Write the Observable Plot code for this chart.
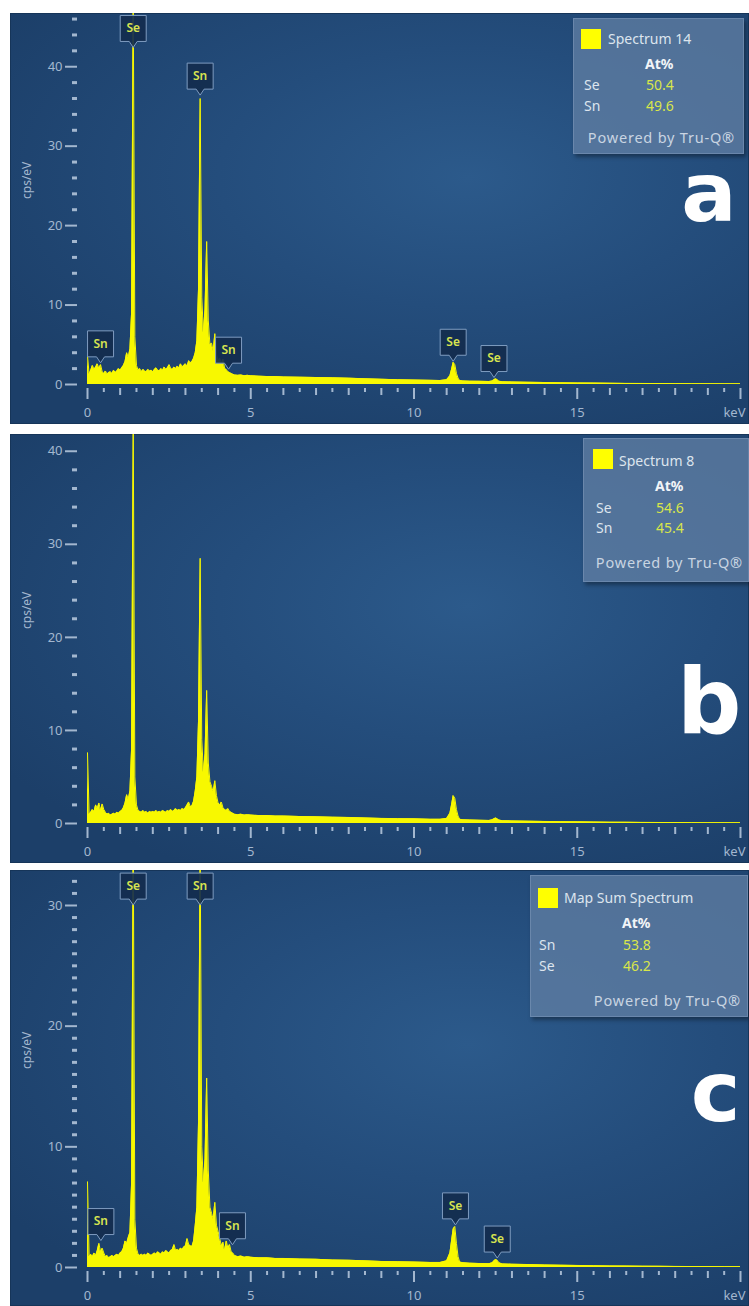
<!DOCTYPE html>
<html><head><meta charset="utf-8">
<script src="https://cdn.jsdelivr.net/npm/d3@7"></script>
<script src="https://cdn.jsdelivr.net/npm/@observablehq/plot@0.6"></script>
<style>
body{margin:0;background:#fff;}
#root{position:relative;width:749px;height:1306px;overflow:hidden;background:#fff;}
.panel{position:absolute;left:10px;}
.panel svg{display:block;}
.legend{position:absolute;background:rgba(98,128,164,0.74);border:1px solid rgba(125,152,186,0.55);box-shadow:2px 3px 4px rgba(0,0,0,0.35);font-family:"Noto Sans",sans-serif;font-size:14px;color:#dde5ee;}
.legend span{position:absolute;white-space:nowrap;line-height:12px;}
.legend .sw{width:20px;height:20px;background:#ffff00;}
.legend .hd{font-weight:700;color:#f2f5f8;}
.legend .val{color:#d9e64a;}
.legend .pw{color:#c9d5e2;font-size:14.5px;letter-spacing:0.8px;}
</style></head>
<body><div id="root"></div>
<script>
// ---- data ----
const keV = [
  0,0.05,0.1,0.15,0.2,0.25,0.3,0.35,0.4,0.45,
  0.5,0.55,0.6,0.65,0.7,0.75,0.8,0.85,0.9,0.95,
  1,1.05,1.1,1.15,1.2,1.25,1.3,1.35,1.4,1.45,
  1.5,1.55,1.6,1.65,1.7,1.75,1.8,1.85,1.9,1.95,
  2,2.05,2.1,2.15,2.2,2.25,2.3,2.35,2.4,2.45,
  2.5,2.55,2.6,2.65,2.7,2.75,2.8,2.85,2.9,2.95,
  3,3.05,3.1,3.15,3.2,3.25,3.3,3.35,3.4,3.45,
  3.5,3.55,3.6,3.65,3.7,3.75,3.8,3.85,3.9,3.95,
  4,4.05,4.1,4.15,4.2,4.25,4.3,4.35,4.4,4.45,
  4.5,4.6,4.7,4.8,4.9,5,5.25,5.5,5.75,6,
  6.5,7,7.5,8,8.5,9,9.5,10,10.5,10.8,
  11,11.1,11.15,11.2,11.25,11.3,11.35,11.4,11.5,11.7,
  12,12.3,12.4,12.45,12.5,12.55,12.6,12.7,13,13.5,
  14,14.5,15,15.5,16,16.5,17,17.5,18,18.5,
  19,19.5,20
];
const cpsA = [
  3.6,1.3,1.8,2.4,1.9,2.2,2.6,2.0,2.5,1.6,
  1.4,1.7,1.3,1.5,1.6,1.4,1.8,1.5,1.7,2.0,
  1.8,2.1,2.4,2.9,4.0,3.4,4.5,9.0,49,6.0,
  2.4,1.8,2.0,1.6,1.9,1.7,1.6,1.9,1.7,1.8,
  1.6,1.9,2.1,1.8,1.7,2.0,1.8,2.2,1.9,2.1,
  2.5,2.0,1.9,2.2,2.0,2.3,2.1,2.6,2.2,2.4,
  2.6,2.3,3.0,2.7,2.9,3.3,4.0,5.5,12,36,
  11,6.5,9.5,18,8.0,5.0,5.2,4.2,6.4,3.8,
  3.0,3.3,2.6,3.2,2.0,1.9,1.6,1.5,1.4,1.3,
  1.2,1.15,1.2,1.1,1.15,1.1,1.05,1.0,1.0,0.95,
  0.92,0.88,0.84,0.8,0.72,0.66,0.6,0.56,0.52,0.5,
  0.6,1.1,1.9,2.8,2.5,1.4,0.8,0.5,0.45,0.42,
  0.4,0.38,0.45,0.6,0.72,0.6,0.42,0.35,0.32,0.28,
  0.25,0.22,0.2,0.18,0.16,0.14,0.13,0.12,0.11,0.1,
  0.09,0.08,0.08
];
const cpsB = [
  7.6,1.0,1.2,1.5,1.3,2.0,1.6,2.2,1.4,2.1,
  1.5,1.2,1.0,1.1,0.9,1.0,1.1,1.0,1.2,1.1,
  1.3,1.4,1.7,2.2,3.1,2.6,3.5,8.0,43,5.0,
  2.0,1.4,1.3,1.2,1.4,1.2,1.3,1.1,1.3,1.2,
  1.3,1.2,1.4,1.2,1.3,1.2,1.4,1.3,1.2,1.4,
  1.3,1.5,1.3,1.4,1.6,1.4,1.5,1.4,1.6,1.5,
  1.7,2.0,2.3,1.8,1.9,2.4,3.5,5.0,11,28.5,
  9,5.5,7.5,14.3,6.5,4.5,4.0,3.4,4.6,3.0,
  2.2,2.0,2.3,1.7,1.5,1.4,1.6,1.3,1.2,1.1,
  1.0,0.95,1.0,0.9,0.95,0.9,0.85,0.85,0.8,0.8,
  0.75,0.72,0.68,0.65,0.6,0.55,0.52,0.5,0.45,0.45,
  0.55,1.1,2.0,3.0,2.7,1.5,0.8,0.45,0.4,0.38,
  0.35,0.33,0.4,0.5,0.6,0.5,0.38,0.3,0.28,0.25,
  0.22,0.2,0.18,0.16,0.14,0.13,0.12,0.11,0.1,0.09,
  0.08,0.08,0.07
];
const cpsC = [
  7.1,0.9,1.1,0.9,1.2,1.0,1.4,2.0,1.3,1.6,
  1.2,0.9,1.0,0.8,0.9,1.0,0.9,1.0,1.1,1.0,
  1.2,1.3,1.6,2.2,2.0,2.5,2.9,7.0,36,4.0,
  1.6,1.1,1.0,1.1,1.0,1.1,1.0,1.2,1.1,1.0,
  1.1,1.2,1.1,1.3,1.2,1.1,1.3,1.2,1.4,1.3,
  1.2,1.4,1.5,1.9,1.4,1.5,1.4,1.6,1.5,1.7,
  1.8,2.4,1.9,1.8,1.75,2.2,3.5,5.0,12,35,
  10,7.0,9.0,15.7,8.0,5.0,4.5,4.0,5.4,3.5,
  3.0,2.4,1.8,2.1,1.4,2.2,1.6,1.9,1.3,1.2,
  1.0,0.9,0.95,0.85,0.9,0.85,0.8,0.8,0.75,0.75,
  0.7,0.68,0.62,0.6,0.55,0.5,0.48,0.45,0.42,0.42,
  0.55,1.2,2.2,3.2,3.4,2.0,0.9,0.45,0.4,0.36,
  0.33,0.32,0.4,0.55,0.66,0.6,0.4,0.3,0.27,0.24,
  0.21,0.19,0.17,0.15,0.13,0.12,0.11,0.1,0.09,0.08,
  0.08,0.07,0.07
];
// peak labels: [element, keV, cps/eV at pointer tip]
const peakLabelsA = [["Se",1.4,42.3],["Sn",3.45,36.3],["Sn",0.4,2.6],["Sn",4.32,1.8],["Se",11.2,2.8],["Se",12.45,0.75]];
const peakLabelsB = [];
const peakLabelsC = [["Se",1.4,29.95],["Sn",3.45,29.95],["Sn",0.41,2.15],["Sn",4.44,1.8],["Se",11.27,3.45],["Se",12.55,0.7]];
// legends
const legendTitles = ["Spectrum 14","Spectrum 8","Map Sum Spectrum"];
const legendRowsA = [["Se","50.4"],["Sn","49.6"]];
const legendRowsB = [["Se","54.6"],["Sn","45.4"]];
const legendRowsC = [["Sn","53.8"],["Se","46.2"]];
const panelLetters = ["a","b","c"];
// axis ticks
const xMajorTicks = [0,5,10,15,20];
const xIntTicks = [1,2,3,4,6,7,8,9,11,12,13,14,16,17,18,19];
const xHalfTicks = [0.5,1.5,2.5,3.5,4.5,5.5,6.5,7.5,8.5,9.5,10.5,11.5,12.5,13.5,14.5,15.5,16.5,17.5,18.5,19.5];
const xUnit = "keV";
const yLabel = "cps/eV";
const yMajorA = [0,10,20,30,40];
const yMinorA = [2,4,6,8,12,14,16,18,22,24,26,28,32,34,36,38,42,44,46];
const yMajorB = [0,10,20,30,40];
const yMinorB = [2,4,6,8,12,14,16,18,22,24,26,28,32,34,36,38];
const yMajorC = [0,10,20,30];
const yMinorC = [1,2,3,4,5,6,7,8,9,11,12,13,14,15,16,17,18,19,21,22,23,24,25,26,27,28,29,31,32];

// ---- drawing ----
const tickColor = "#a3b7cf";
const yellow = "#f8f800";
const callout = {draw(ctx){ // box with a small pointer, tip at (0,0)
  ctx.moveTo(-13,-33); ctx.lineTo(13,-33); ctx.lineTo(13,-7); ctx.lineTo(4,-7);
  ctx.lineTo(0,-1); ctx.lineTo(-4,-7); ctx.lineTo(-13,-7); ctx.closePath();
}};

const panels = [
  {top:13, height:411, mb:40, ymax:46.7, cps:cpsA, labels:peakLabelsA, yMajor:yMajorA, yMinor:yMinorA,
   letter:panelLetters[0], lsize:82, ldx:-4, ldy:207, title:legendTitles[0], rows:legendRowsA,
   lg:{left:563, top:5, width:169, height:134, swL:7, swT:10, tL:34, eL:10, vL:72, base:[25,50,71,92,124], pwR:8}},
  {top:434, height:429, mb:40, ymax:41.8, cps:cpsB, labels:peakLabelsB, yMajor:yMajorB, yMinor:yMinorB,
   letter:panelLetters[1], lsize:90, ldx:1, ldy:298, title:legendTitles[1], rows:legendRowsB,
   lg:{left:573, top:4, width:164, height:142, swL:9, swT:10, tL:35, eL:12, vL:72, base:[27,52,74,94,129], pwR:5}},
  {top:870, height:436, mb:39, ymax:32.9, cps:cpsC, labels:peakLabelsC, yMajor:yMajorC, yMinor:yMinorC,
   letter:panelLetters[2], lsize:84, ldx:0, ldy:250, title:legendTitles[2], rows:legendRowsC,
   lg:{left:520, top:5, width:216, height:140, swL:7, swT:12, tL:33, eL:8, vL:92, base:[27,52,74,95,130], pwR:6}}
];

const root = document.getElementById("root");
for (const p of panels) {
  const data = keV.map((e,i)=>({e, v:p.cps[i]}));
  const labels = p.labels.map(([el,e,tip])=>({el,e,tip}));
  const chart = Plot.plot({
    width:739, height:p.height,
    marginLeft:77, marginRight:9, marginTop:0, marginBottom:p.mb,
    x:{domain:[0,20]}, y:{domain:[0,p.ymax]},
    style:{background:"radial-gradient(ellipse 75% 70% at 62% 40%, #2c5a8b 0%, #244d7c 45%, #1c3f69 100%)",
           fontFamily:"'Noto Sans', sans-serif", fontSize:"13px", color:tickColor,
           boxShadow:"inset 0 0 0 1px #163559", overflow:"hidden"},
    marks:[
      Plot.areaY(data,{x:"e", y:"v", fill:yellow, clip:true}),
      Plot.lineY(data,{x:"e", y:"v", stroke:yellow, strokeWidth:1, clip:true}),
      Plot.axisX(xHalfTicks,{tickSize:4, dy:4, tickFormat:()=>"", stroke:tickColor, strokeWidth:2, label:null}),
      Plot.axisX(xIntTicks,{tickSize:7, dy:4, tickFormat:()=>"", stroke:tickColor, strokeWidth:2, label:null}),
      Plot.axisX(xMajorTicks,{tickSize:11, tickPadding:8, dy:4, tickFormat:d=>d===20?"":String(d),
        stroke:tickColor, fill:tickColor, strokeWidth:2, fontSize:13, label:null}),
      Plot.axisY(p.yMinor,{tickSize:5, dx:-10, tickFormat:()=>"", stroke:tickColor, strokeWidth:3, label:null}),
      Plot.axisY(p.yMajor,{tickSize:12, tickPadding:3, dx:-10, stroke:tickColor, fill:tickColor, strokeWidth:2, fontSize:13, label:null}),
      Plot.text([xUnit],{frameAnchor:"bottom-right", dx:5, dy:32, textAnchor:"end", lineAnchor:"bottom", fill:tickColor, fontSize:13}),
      Plot.text([yLabel],{frameAnchor:"left", rotate:-90, dx:-60, fill:tickColor, fontSize:12}),
      Plot.text([p.letter],{frameAnchor:"top-right", dx:p.ldx, dy:p.ldy, textAnchor:"end", lineAnchor:"bottom",
        fill:"#ffffff", fontSize:p.lsize, fontWeight:700, fontFamily:"'DejaVu Sans', sans-serif"}),
      Plot.dot(labels,{x:"e", y:"tip", symbol:callout, r:4, fill:"#142d4e", fillOpacity:0.92, stroke:"#7f9cc0", strokeWidth:1}),
      Plot.text(labels,{x:"e", y:"tip", text:"el", dy:-20, fill:"#d8e450", fontSize:12, fontWeight:600})
    ]
  });
  const div = document.createElement("div");
  div.className = "panel";
  div.style.top = p.top + "px";
  div.style.width = "739px";
  div.style.height = p.height + "px";
  div.appendChild(chart);
  // legend
  const g = p.lg;
  const lg = document.createElement("div");
  lg.className = "legend";
  Object.assign(lg.style,{left:g.left+"px", top:g.top+"px", width:g.width+"px", height:g.height+"px"});
  const add = (cls, text, style) => {
    const s = document.createElement("span");
    if (cls) s.className = cls;
    if (text != null) s.textContent = text;
    Object.assign(s.style, style);
    lg.appendChild(s);
  };
  add("sw", null, {left:g.swL+"px", top:g.swT+"px"});
  add("", p.title, {left:g.tL+"px", top:(g.base[0]-11)+"px"});
  add("hd", "At%", {left:(g.vL-1)+"px", top:(g.base[1]-11)+"px"});
  p.rows.forEach(([el,val],i)=>{
    add("", el, {left:g.eL+"px", top:(g.base[2+i]-11)+"px"});
    add("val", val, {left:g.vL+"px", top:(g.base[2+i]-11)+"px"});
  });
  add("pw", "Powered by Tru-Q®", {right:g.pwR+"px", top:(g.base[4]-12)+"px"});
  div.appendChild(lg);
  root.appendChild(div);
}
</script></body></html>
